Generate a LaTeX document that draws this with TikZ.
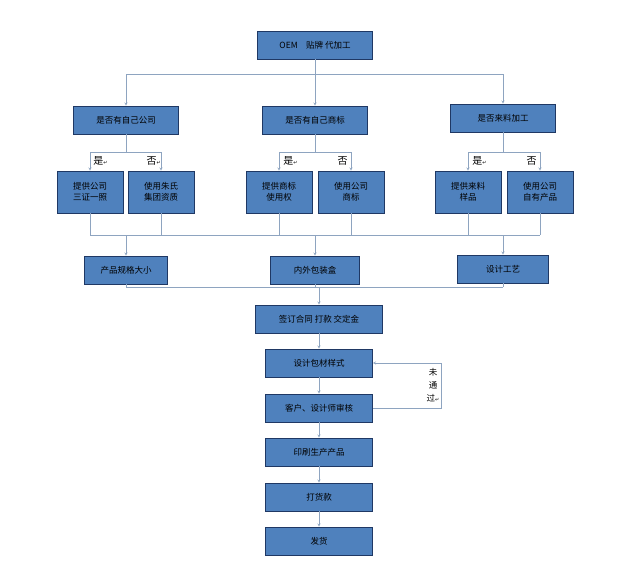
\documentclass[tikz,border=0pt]{standalone}
\usepackage{fontspec}
\setmainfont{Noto Sans CJK SC}
\newfontfamily\symfont{DejaVu Sans}
\usetikzlibrary{arrows}
\definecolor{boxfill}{HTML}{4F81BD}
\definecolor{boxline}{HTML}{1F3864}
\definecolor{wire}{HTML}{8EA4C0}
\newcommand{\ret}{{\symfont\tiny ↵}}
\begin{document}
\begin{tikzpicture}[> = stealth, % arrow head style
                x = 1pt, y = -1pt, % pixel grid
                semithick % line style
            ]

            \tikzstyle{box}=[draw = boxline, fill = boxfill, thick, inner sep = 1pt,
            minimum height = 28pt, font = \fontsize{8.5}{11}\selectfont, align = center]
            \tikzstyle{tall}=[box, minimum height = 42pt, minimum width = 66pt]
            \tikzstyle{wire}=[draw = wire, thin]

            \useasboundingbox (0,0) rectangle (640,568);

            % top
            \node[box, minimum width = 115pt] (oem) at (315,45) {OEM\quad 贴牌\ 代加工};

            % questions
            \node[box, minimum width = 105pt] (qa) at (126,120) {是否有自己公司};
            \node[box, minimum width = 105pt] (qb) at (315,120) {是否有自己商标};
            \node[box, minimum width = 105pt] (qc) at (503,118) {是否来料加工};

            % answers
            \node[tall] (a1) at (90,192) {提供公司\\三证一照};
            \node[tall] (a2) at (161,192) {使用朱氏\\集团资质};
            \node[tall] (b1) at (279,192) {提供商标\\使用权};
            \node[tall] (b2) at (351,192) {使用公司\\商标};
            \node[tall] (c1) at (468,192) {提供来料\\样品};
            \node[tall] (c2) at (540,192) {使用公司\\自有产品};

            % results
            \node[box, minimum width = 83pt] (ra) at (126,270) {产品规格大小};
            \node[box, minimum width = 89pt] (rb) at (315,270) {内外包装盒};
            \node[box, minimum width = 91pt] (rc) at (503,269) {设计工艺};

            % process
            \node[box, minimum width = 127pt] (p1) at (319,319) {签订合同\ 打款\ 交定金};
            \node[box, minimum width = 107pt] (p2) at (319,363) {设计包材样式};
            \node[box, minimum width = 107pt] (p3) at (319,408) {客户、设计师审核};
            \node[box, minimum width = 107pt] (p4) at (319,452) {印刷生产产品};
            \node[box, minimum width = 107pt] (p5) at (319,497) {打货款};
            \node[box, minimum width = 107pt] (p6) at (319,541) {发货};

            % top split
            \path[wire] (oem.south) -- (315,74) (126,74) -- (503,74);
            \foreach \q in {qa,qb,qc} \draw[wire,->] (\q |- 0,74) -- (\q.north);

            % yes / no splits
            \foreach \q/\y/\n in {qa/a1/a2,qb/b1/b2,qc/c1/c2} {
                \draw[wire] (\q.south) -- (\q |- 0,152);
                \draw[wire] (\y |- 0,152) -- (\n |- 0,152);
                \draw[wire,->] (\y |- 0,152) -- (\y.north);
                \draw[wire,->] (\n |- 0,152) -- (\n.north);
            }
            \node[anchor=west, inner sep=1pt] at (92,161) {是\ret};
            \node[anchor=east, inner sep=1pt] at (162,161) {否\ret};
            \node[anchor=west, inner sep=1pt] at (282,161) {是\ret};
            \node[anchor=east, inner sep=1pt] at (349,161) {否};
            \node[anchor=west, inner sep=1pt] at (471,161) {是\ret};
            \node[anchor=east, inner sep=1pt] at (538,161) {否};

            % merge to results
            \foreach \a in {a1,a2,b1,b2,c1,c2} \draw[wire] (\a.south) -- (\a |- 0,235);
            \draw[wire] (90,235) -- (540,235);
            \foreach \r in {ra,rb,rc} \draw[wire,->] (\r |- 0,235) -- (\r.north);

            % merge to contract
            \foreach \r in {ra,rb,rc} \draw[wire] (\r.south) -- (\r |- 0,287);
            \draw[wire] (126,287) -- (503,287);
            \draw[wire,->] (319,287) -- (p1.north);

            % process chain
            \draw[wire,->] (p1) -- (p2); \draw[wire,->] (p2) -- (p3);
            \draw[wire,->] (p3) -- (p4); \draw[wire,->] (p4) -- (p5);
            \draw[wire,->] (p5) -- (p6);

            % review loop
            \coordinate (lb) at (441,408); \coordinate (lt) at (441,363);
            \draw[wire,->] (p3.east) -- (lb) -- (lt) -- (p2.east);
            \node[align=center, inner sep=0pt, font=\fontsize{8.5}{13}\selectfont]
                at (433,385) {未\\通\\过\ret};

        \end{tikzpicture}
\end{document}
